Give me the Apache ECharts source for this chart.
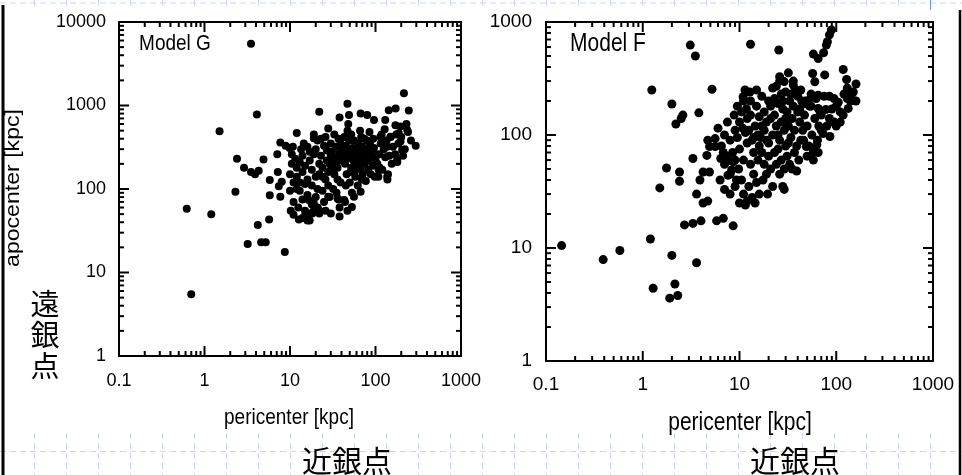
<!DOCTYPE html>
<html lang="ja">
<head>
<meta charset="UTF-8">
<title>Model G / Model F</title>
<script src="https://cdn.jsdelivr.net/npm/echarts@6/dist/echarts.min.js"></script>
<style>
    html, body { margin: 0; padding: 0; background: #fff; }
    #main { width: 962px; height: 475px; }
</style>
</head>
<body>
<div id="main"></div>
<script>
// [pericenter, apocenter] in kpc
var modelG = [
    [3.5, 5500], [4.1, 780], [1.5, 490], [2.4, 230], [2.9, 180], [3.5, 160], [3.9, 150], [4.3, 165],
    [4.9, 225], [2.3, 93], [0.62, 58], [1.2, 50], [4.2, 37], [5.7, 43], [5.8, 84], [5.8, 128],
    [7.1, 260], [7.2, 160], [8, 122], [7.4, 108], [7.7, 81], [7.7, 360], [8.9, 330], [9.9, 310],
    [12, 470], [22, 840], [47, 1050], [215, 1400], [245, 870], [295, 330], [235, 510], [172, 920],
    [143, 880], [38, 720], [49, 770], [67, 800], [80, 770], [28, 530], [14.5, 350], [19, 405],
    [3.2, 22], [4.6, 23], [5.2, 23], [8.7, 17.6], [0.7, 5.5],
    [11, 49], [12.7, 43], [16, 42], [17, 51], [16.6, 74], [19, 67], [22, 51], [30, 51], [38, 47],
    [47, 55], [53, 61], [43, 74], [56, 81], [67, 93], [28, 81], [36, 77], [16.3, 45], [18.2, 51], [21.7, 56],
    [96, 670], [130, 670], [171, 580], [187, 465], [196, 370], [114, 423], [150, 423], [137, 321],
    [205, 293], [179, 222], [109, 169], [137, 140],
    [10, 150], [10.5, 200], [11, 120], [10, 95], [11, 70], [12, 180], [10.5, 260], [11.5, 230], [12, 100],
    [12.5, 60], [10.2, 55], [12, 140], [10.8, 320],
    [13, 210], [14, 160], [13, 95], [14, 75], [15, 55], [15, 48], [14, 250], [15, 190], [16, 130],
    [13.5, 300], [16, 85], [15, 115], [14, 45], [16, 320], [13, 120],
    [17, 220], [18, 170], [19, 260], [20, 140], [21, 100], [18, 65], [17, 42], [19, 55], [20, 300],
    [21, 380], [22, 200], [18, 110], [20, 80], [22, 150], [19, 450], [21, 60], [17, 280],
    [23, 250], [24, 180], [25, 330], [26, 130], [27, 220], [28, 160], [24, 95], [25, 70], [27, 290],
    [29, 200], [30, 350], [23, 400], [26, 420], [28, 110], [30, 250], [24, 140], [29, 80], [26, 55], [30, 170],
    [31, 280], [32, 210], [33, 150], [34, 320], [35, 240], [36, 180], [37, 400], [38, 270], [39, 120],
    [40, 220], [32, 100], [35, 90], [38, 60], [40, 300], [33, 450], [36, 130], [34, 200], [39, 350],
    [31, 170], [37, 75],
    [42, 260], [44, 200], [45, 330], [46, 150], [48, 280], [50, 240], [52, 180], [54, 310], [43, 420],
    [47, 500], [50, 120], [53, 90], [55, 220], [45, 110], [49, 380], [51, 160], [44, 70], [52, 450],
    [41, 300], [55, 270], [48, 600], [46, 230],
    [57, 250], [59, 300], [61, 200], [63, 350], [65, 270], [67, 180], [70, 320], [72, 230], [74, 400],
    [58, 140], [62, 110], [66, 500], [68, 420], [60, 170], [71, 150], [73, 280], [56, 380], [64, 230],
    [69, 130], [75, 200],
    [78, 260], [80, 300], [83, 220], [86, 350], [90, 250], [93, 190], [96, 310], [100, 230], [82, 170],
    [88, 150], [94, 400], [98, 140], [85, 480], [79, 380], [91, 280], [77, 125],
    [105, 200], [110, 260], [115, 350], [120, 170], [125, 300], [130, 240], [140, 150], [150, 420],
    [108, 140], [118, 450], [135, 380], [145, 250], [160, 320], [112, 180], [128, 520], [155, 200], [138, 130],
    [170, 260], [185, 350], [200, 420], [220, 300], [240, 480], [180, 210], [210, 250], [260, 380],
    [195, 560], [230, 600], [175, 450]
];

var modelF = [
    [3.1, 625], [3.5, 500], [13, 635], [25.5, 565], [1.24, 250], [2.0, 188], [2.6, 150], [2.5, 140],
    [2.2, 125], [3.8, 157], [5.2, 254], [1.76, 51], [2.4, 47], [2.4, 39], [1.5, 34], [3.3, 62],
    [3.6, 30], [4.2, 25], [4.7, 26], [2.7, 16], [3.3, 16.5], [4.0, 17.4], [5.8, 17.4], [6.8, 18.3],
    [8.6, 15.7], [1.2, 12], [4.6, 66], [4.9, 79], [5.6, 93], [4.7, 90], [6.0, 115], [5.6, 79],
    [3.9, 40], [4.2, 47], [4.9, 47], [6.3, 40], [7.0, 33], [6.4, 62], [7.3, 58], [8.6, 58], [8.3, 49],
    [7.6, 44], [9.3, 40],
    [0.145, 10.5], [0.39, 7.9], [0.58, 9.5], [1.28, 4.4], [2.0, 8.6], [2.15, 4.8], [1.9, 3.6],
    [2.3, 3.8], [3.6, 7.4],
    [89, 850], [85, 770], [81, 670], [79, 625], [58, 520], [65, 475], [74, 535],
    [32, 355], [57, 350], [76, 340], [118, 380], [128, 310], [160, 283], [60, 296], [26, 328],
    [29, 297], [36, 277], [43, 250], [11.4, 250], [10.9, 218], [118, 150], [100, 120], [133, 172],
    [130, 210], [86, 97], [73, 103], [58, 60], [58, 71], [63, 82], [49, 79],
    [6.5, 80], [7, 100], [7.5, 130], [8, 90], [8.5, 70], [9, 110], [7, 55], [8, 45], [9, 60], [6.8, 70],
    [8.8, 150], [7.5, 65], [9, 35], [8, 30],
    [9.5, 95], [10, 130], [10.5, 160], [11, 200], [11.5, 105], [10, 75], [11, 60], [12, 85], [9.8, 50],
    [10.5, 40], [11, 30], [12, 26], [10, 25], [11.5, 24], [12, 140], [9.5, 180], [10.8, 115], [11.8, 170],
    [12.5, 110], [13, 150], [13.5, 90], [14, 70], [14.5, 120], [15, 180], [15.5, 100], [16, 80],
    [13, 55], [14, 45], [15, 38], [16, 30], [12.5, 35], [13.5, 28], [14.5, 25], [16, 145], [13, 200],
    [15, 250], [12.8, 240], [14, 95], [15.5, 60],
    [17, 120], [18, 160], [19, 90], [20, 200], [21, 140], [22, 100], [17, 70], [18, 55], [19, 45],
    [20, 65], [21, 50], [22, 35], [17, 220], [18, 110], [19, 130], [20, 85], [21, 180], [22, 260],
    [16.5, 95], [19.5, 30], [17.5, 40],
    [23, 150], [24, 120], [25, 190], [26, 90], [27, 230], [28, 170], [29, 110], [30, 140], [23, 70],
    [24, 55], [25, 75], [26, 45], [27, 60], [28, 35], [29, 50], [30, 80], [24, 270], [26, 300],
    [28, 200], [25, 100], [27, 130], [23, 210], [30, 240], [29, 33],
    [31, 160], [32, 120], [33, 200], [34, 95], [35, 140], [36, 180], [37, 110], [38, 250], [39, 80],
    [40, 160], [42, 130], [44, 200], [31, 65], [33, 55], [35, 50], [37, 70], [39, 48], [41, 60],
    [43, 90], [45, 110], [34, 230], [36, 300], [40, 220], [32, 85], [42, 170],
    [47, 150], [50, 120], [53, 180], [56, 100], [60, 140], [64, 90], [68, 160], [48, 200], [52, 80],
    [58, 75], [62, 210], [66, 120], [55, 230], [46, 90], [70, 110], [50, 65], [65, 70],
    [50, 200], [55, 215], [65, 225], [75, 220], [85, 220], [95, 210], [105, 195], [100, 180], [90, 170],
    [78, 168], [65, 172], [55, 180], [47, 190], [70, 150], [85, 140], [110, 160], [95, 130], [120, 230],
    [140, 200], [130, 260], [150, 240], [160, 200], [80, 120], [110, 130], [145, 230]
];

var gRangeX = [0.1, 1000];
var gRangeY = [1, 10000];
var fRangeX = [0.1, 1000];
var fRangeY = [1, 1000];
var decades = [0.1, 1, 10, 100, 1000, 10000];
var minorSteps = [2, 3, 4, 5, 6, 7, 8, 9];

var latin = '"Liberation Sans", Arial, sans-serif';
var cjk = '"Noto Sans CJK JP", sans-serif';
var slideBlue = '#c9d8f4';

// tick values inside a range: [value, major?]
function tickList(range) {
    var out = [];
    decades.forEach(function (d) {
        if (d >= range[0] && d <= range[1]) out.push([d, true]);
        minorSteps.forEach(function (m) {
            var v = d * m;
            if (v > range[0] && v < range[1]) out.push([v, false]);
        });
    });
    return out;
}

// inside ticks on all four sides, as small rects placed through the axes
function tickMarks(rx, ry) {
    var out = [];
    tickList(rx).forEach(function (t) {
        var len = t[1] ? 10 : 5;
        out.push({value: [t[0], ry[0]], symbolSize: [2, len], symbolOffset: [0, -len / 2]});
        out.push({value: [t[0], ry[1]], symbolSize: [2, len], symbolOffset: [0, len / 2]});
    });
    tickList(ry).forEach(function (t) {
        var len = t[1] ? 10 : 5;
        out.push({value: [rx[0], t[0]], symbolSize: [len, 2], symbolOffset: [len / 2, 0]});
        out.push({value: [rx[1], t[0]], symbolSize: [len, 2], symbolOffset: [-len / 2, 0]});
    });
    return out;
}

function logAxis(gridIndex, pos, range, showLabel, fontSize, margin) {
    return {
        type: 'log', logBase: 10, gridIndex: gridIndex, position: pos, min: range[0], max: range[1],
        axisLine: {show: true, onZero: false, lineStyle: {color: '#000', width: 2}},
        axisTick: {show: false},
        minorTick: {show: false},
        axisLabel: {
            show: showLabel, color: '#000', fontSize: fontSize, margin: margin, fontFamily: 'Liberation Sans',
            formatter: function (v) { return String(v); }
        },
        splitLine: {show: false}
    };
}

// slide template behind the figure: dashed lines every 32px, visible above and below it
var slideLines = [
    {type: 'line', shape: {x1: 0, y1: 3, x2: 962, y2: 3}, style: {stroke: slideBlue, lineWidth: 1, lineDash: [6, 4]}},
    {type: 'line', shape: {x1: 0, y1: 451.5, x2: 962, y2: 451.5}, style: {stroke: slideBlue, lineWidth: 1, lineDash: [6, 4]}}
];
for (var sx = 34.5; sx < 962; sx += 32) {
    slideLines.push({type: 'line', shape: {x1: sx, y1: 0, x2: sx, y2: 6}, style: {stroke: slideBlue, lineWidth: 1}});
    slideLines.push({type: 'line', shape: {x1: sx, y1: 433, x2: sx, y2: 475}, style: {stroke: slideBlue, lineWidth: 1, lineDash: [6, 4]}});
}

var chart = echarts.init(document.getElementById('main'));

var option = {
    animation: false,
    grid: [
        {left: 119, top: 22, width: 342, height: 334},
        {left: 546, top: 22, width: 387, height: 339}
    ],
    xAxis: [
        logAxis(0, 'bottom', gRangeX, true, 18, 16),
        logAxis(0, 'top', gRangeX, false, 18, 8),
        logAxis(1, 'bottom', fRangeX, true, 19, 14),
        logAxis(1, 'top', fRangeX, false, 19, 8)
    ],
    yAxis: [
        logAxis(0, 'left', gRangeY, true, 18, 13),
        logAxis(0, 'right', gRangeY, false, 18, 8),
        logAxis(1, 'left', fRangeY, true, 19, 14),
        logAxis(1, 'right', fRangeY, false, 19, 8)
    ],
    series: [
        {
            name: 'Model G', type: 'scatter', xAxisIndex: 0, yAxisIndex: 0,
            data: modelG, symbolSize: 8, itemStyle: {color: '#000', opacity: 1}
        },
        {
            name: 'Model F', type: 'scatter', xAxisIndex: 2, yAxisIndex: 2,
            data: modelF, symbolSize: 9, itemStyle: {color: '#000', opacity: 1}
        },
        {
            name: 'ticksG', type: 'scatter', xAxisIndex: 0, yAxisIndex: 0, symbol: 'rect', clip: false, silent: true,
            data: tickMarks(gRangeX, gRangeY), itemStyle: {color: '#000', opacity: 1}
        },
        {
            name: 'ticksF', type: 'scatter', xAxisIndex: 2, yAxisIndex: 2, symbol: 'rect', clip: false, silent: true,
            data: tickMarks(fRangeX, fRangeY), itemStyle: {color: '#000', opacity: 1}
        }
    ],
    graphic: slideLines.concat([
        {type: 'line', shape: {x1: 3, y1: 5, x2: 3, y2: 475}, style: {stroke: '#000', lineWidth: 3}},
        {type: 'line', shape: {x1: 960, y1: 10, x2: 960, y2: 475}, style: {stroke: '#000', lineWidth: 2.5}},
        {type: 'line', shape: {x1: 930.5, y1: 0, x2: 930.5, y2: 10}, style: {stroke: '#7394ee', lineWidth: 1}},
        {type: 'text', x: 175, y: 44, scaleY: 1.2,
            style: {text: 'Model G', font: '19px ' + latin, fill: '#000', align: 'center', verticalAlign: 'middle'}},
        {type: 'text', x: 608, y: 44, scaleY: 1.2,
            style: {text: 'Model F', font: '21px ' + latin, fill: '#000', align: 'center', verticalAlign: 'middle'}},
        {type: 'text', x: 289, y: 418, scaleY: 1.2,
            style: {text: 'pericenter [kpc]', font: '19px ' + latin, fill: '#000', align: 'center', verticalAlign: 'middle'}},
        {type: 'text', x: 740, y: 423, scaleY: 1.2,
            style: {text: 'pericenter [kpc]', font: '21px ' + latin, fill: '#000', align: 'center', verticalAlign: 'middle'}},
        {type: 'text', x: 13, y: 188, rotation: Math.PI / 2, scaleX: 1.1,
            style: {text: 'apocenter [kpc]', font: '21px ' + latin, fill: '#000', align: 'center', verticalAlign: 'middle'}},
        {type: 'text', x: 45, y: 288,
            style: {text: '遠\n銀\n点', font: '29px ' + cjk, lineHeight: 31, fill: '#000', align: 'center', verticalAlign: 'top'}},
        {type: 'text', x: 347, y: 461,
            style: {text: '近銀点', font: '30px ' + cjk, fill: '#000', align: 'center', verticalAlign: 'middle'}},
        {type: 'text', x: 795, y: 461,
            style: {text: '近銀点', font: '30px ' + cjk, fill: '#000', align: 'center', verticalAlign: 'middle'}}
    ])
};

chart.setOption(option);
</script>
</body>
</html>
